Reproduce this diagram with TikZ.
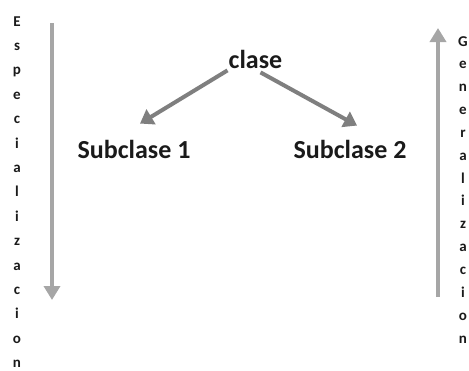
\documentclass[tikz,border=0pt]{standalone}
\usepackage{fontspec}
\setmainfont{Carlito}
\usetikzlibrary{arrows.meta}
\definecolor{arrowgray}{HTML}{A6A6A6}
\definecolor{linkgray}{HTML}{7F7F7F}
\definecolor{textdark}{HTML}{1A1A1A}

\begin{document}
\begin{tikzpicture}[x=1pt, y=-1pt,
    label/.style={inner sep=0pt, anchor=base, text=textdark, font=\fontsize{26}{30}\selectfont\bfseries},
    sideletter/.style={inner sep=0pt, anchor=base, text=textdark, font=\fontsize{15}{17}\selectfont\bfseries},
    axis/.style={draw=arrowgray, line width=3.5pt, -{Triangle[width=16pt,length=14pt]}},
    link/.style={draw=linkgray, line width=4pt, -{Triangle[width=17pt,length=13pt]}}]
  \useasboundingbox (0,0) rectangle (469,370);

  % class and subclasses
  \node[label] (clase) at (255.5,68) {clase};
  \node[label] (sub1) at (134,158) {Subclase 1};
  \node[label] (sub2) at (350,158) {Subclase 2};
  \draw[link] ([shift={(-28,2)}]clase.south) -- ([shift={(6,-16)}]sub1.north);
  \draw[link] ([shift={(5,4)}]clase.south) -- ([shift={(7,-14)}]sub2.north);

  % left: especializacion
  \coordinate (esp-top) at (52,23);
  \coordinate (esp-end) at (52,300);
  \draw[axis] (esp-top) -- (esp-end);
  \foreach \ch [count=\i from 0] in {E,s,p,e,c,i,a,l,i,z,a,c,i,o,n}
    \node[sideletter] (esp-\i) at (17, 26+24.4*\i) {\ch};

  % right: generalizacion
  \coordinate (gen-bot) at (438,297);
  \coordinate (gen-end) at (438,28);
  \draw[axis] (gen-bot) -- (gen-end);
  \foreach \ch [count=\i from 0] in {G,e,n,e,r,a,l,i,z,a,c,i,o,n}
    \node[sideletter] (gen-\i) at (463, 46+22.85*\i) {\ch};
\end{tikzpicture}
\end{document}
